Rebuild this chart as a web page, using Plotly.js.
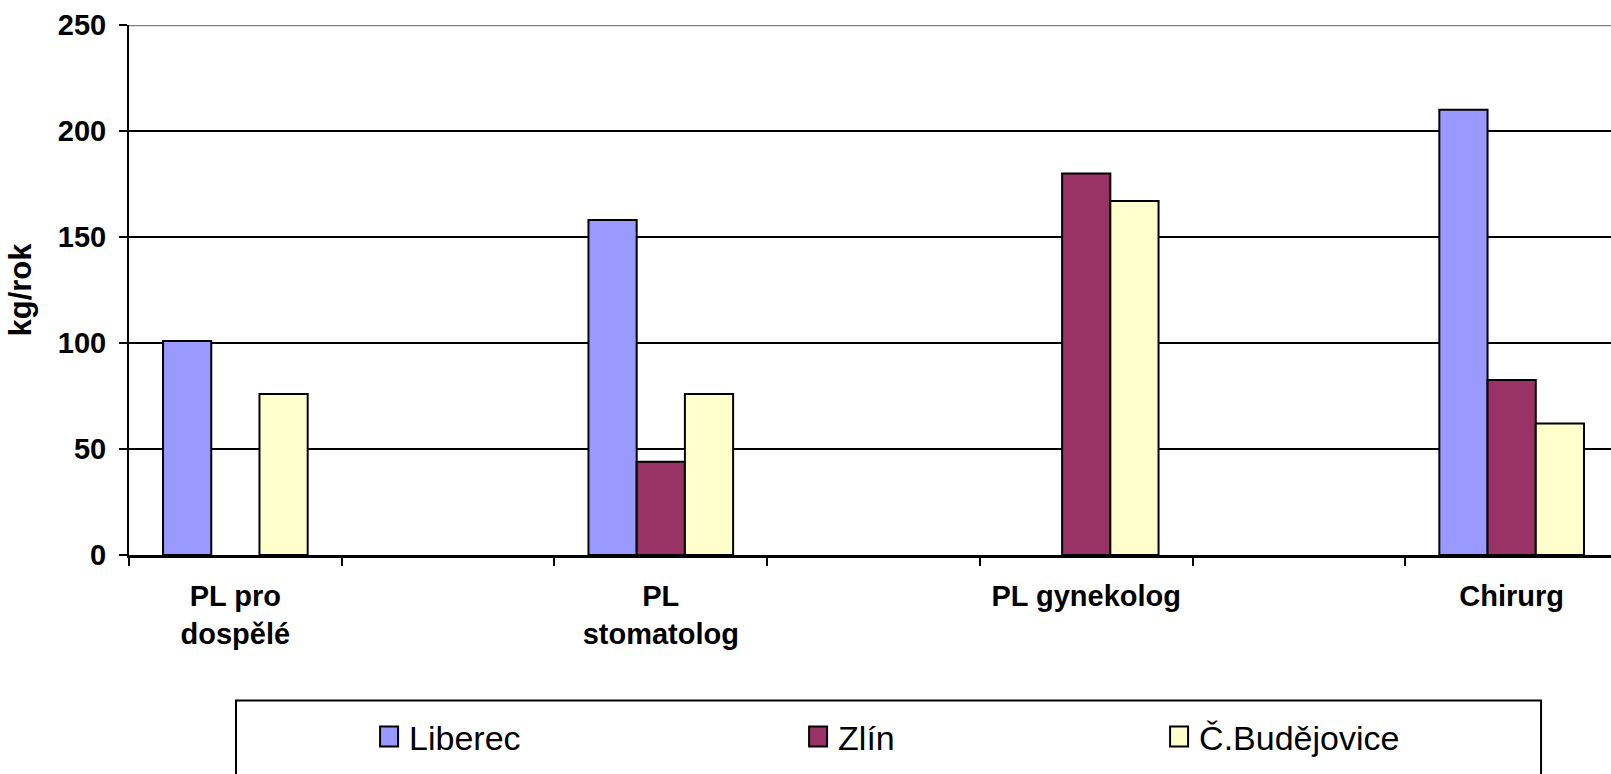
<!DOCTYPE html>
<html>
<head>
<meta charset="utf-8">
<script src="https://cdn.plot.ly/plotly-3.0.1.min.js"></script>
<style>
  html, body { margin: 0; padding: 0; background: #fff; overflow: hidden; }
  #chart { width: 1611px; height: 774px; }
</style>
</head>
<body>
<div id="chart"></div>
<script>
// Category slots along the x axis; the blank slots carry no label.
const categories = ["PL pro<br>dospělé", " ", "PL<br>stomatolog", "  ", "PL gynekolog", "   ", "Chirurg"];

// Annual amounts in kg/rok per city (null = no value)
const liberec    = [101, null, 158, null, null, null, 210];
const zlin       = [null, null, 44, null, 180, null, 82.5];
const budejovice = [76, null, 76, null, 167, null, 62];

const seriesNames  = ["Liberec", "Zlín", "Č.Budějovice"];
const seriesColors = ["#9999FF", "#993366", "#FFFFCC"];
const seriesValues = [liberec, zlin, budejovice];
const legendWidths = [384, 316, 200];

const FONT = "Arial, 'Liberation Sans', sans-serif";

const traces = seriesValues.map((vals, i) => ({
  type: "bar",
  name: seriesNames[i],
  x: categories,
  y: vals,
  marker: { color: seriesColors[i], line: { color: "#000", width: 2 } },
  legendwidth: legendWidths[i],
  hoverinfo: "x+y+name"
}));

const layout = {
  width: 1611,
  height: 774,
  margin: { l: 129, r: 0, t: 25, b: 219 },
  paper_bgcolor: "#fff",
  plot_bgcolor: "#fff",
  barmode: "group",
  bargap: 0.32,
  bargroupgap: 0,
  font: { family: FONT, color: "#000" },
  xaxis: {
    type: "category",
    categoryorder: "array",
    categoryarray: categories,
    range: [-0.5, 6.467],
    showline: true,
    linecolor: "#000",
    linewidth: 2.5,
    ticks: "outside",
    tickson: "boundaries",
    ticklen: 8,
    tickwidth: 2,
    tickcolor: "#000",
    showgrid: false,
    ticklabelstandoff: 14,
    tickfont: { family: FONT, size: 29, weight: "bold", color: "#000" },
    tickangle: 0
  },
  yaxis: {
    range: [0, 250],
    tickvals: [0, 50, 100, 150, 200, 250],
    showline: true,
    linecolor: "#000",
    linewidth: 2,
    ticks: "outside",
    ticklen: 8,
    tickwidth: 2,
    tickcolor: "#000",
    showgrid: true,
    gridcolor: "#000",
    gridwidth: 2,
    zeroline: false,
    ticklabelstandoff: 7,
    tickfont: { family: FONT, size: 29, weight: "bold", color: "#000" },
    title: { text: "kg/rok", font: { family: FONT, size: 31, weight: "bold", color: "#000" }, standoff: 17 }
  },
  showlegend: true,
  legend: {
    orientation: "h",
    x: 0.162,
    xanchor: "left",
    y: -0.2887,
    yanchor: "top",
    bgcolor: "rgba(0,0,0,0)",
    borderwidth: 0,
    font: { family: FONT, size: 34, color: "#000" },
    traceorder: "normal"
  },
  shapes: [
    // plot-area top border
    { type: "line", xref: "paper", yref: "y", x0: 0, x1: 1, y0: 250, y1: 250,
      line: { color: "#808080", width: 2.5 }, layer: "above" },
    // legend frame
    { type: "rect", xref: "paper", yref: "paper", x0: 0.0722, x1: 0.9528, y0: -0.2743, y1: -0.6,
      line: { color: "#000", width: 2 }, fillcolor: "rgba(0,0,0,0)", layer: "below" }
  ]
};

Plotly.newPlot("chart", traces, layout, { displayModeBar: false, staticPlot: true }).then(gd => {
  // larger legend swatches
  gd.querySelectorAll(".legend .legendpoints path").forEach(p => {
    p.setAttribute("d", "M9,10H-9V-10H9Z");
  });
});
</script>
</body>
</html>
